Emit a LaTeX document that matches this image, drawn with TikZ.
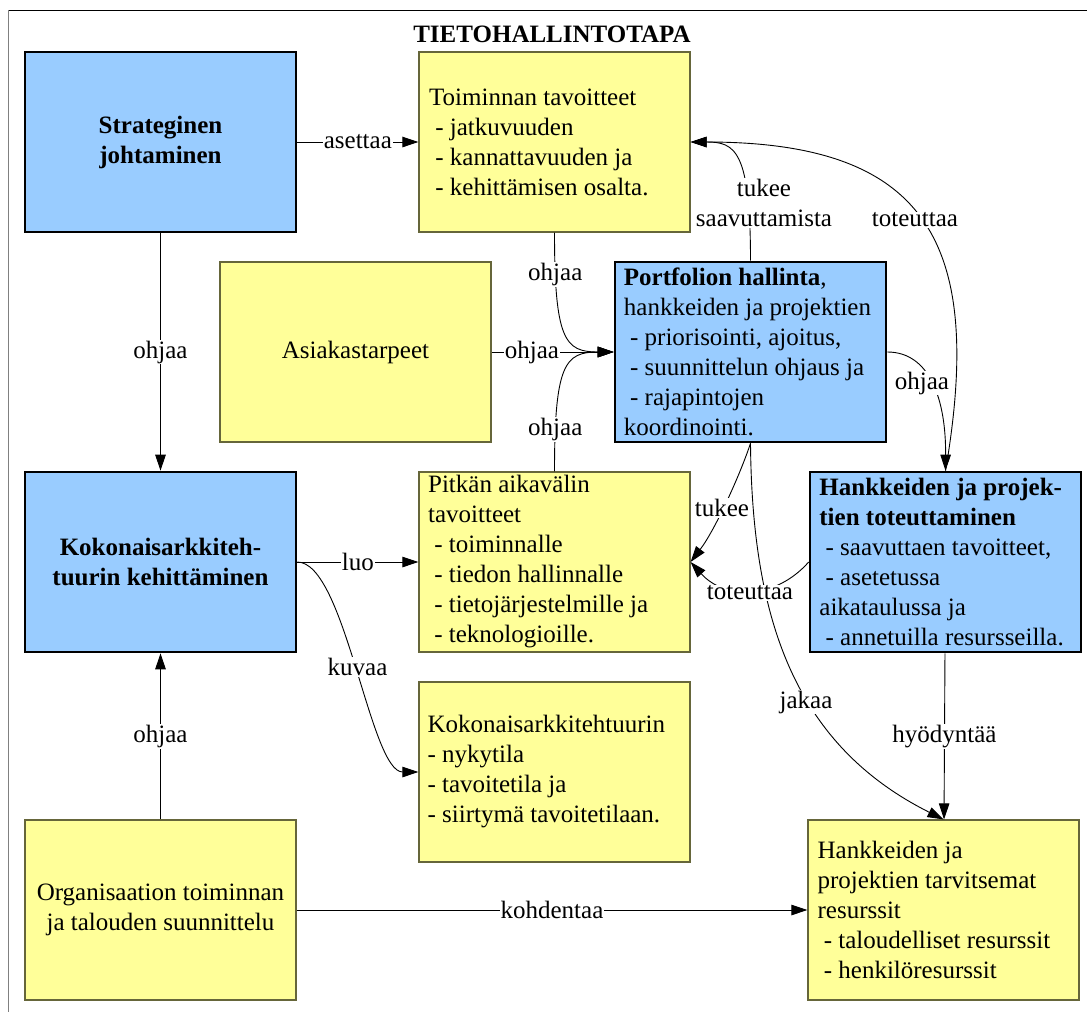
\documentclass[tikz,border=0pt]{standalone}
\usepackage{fontspec}
\setmainfont{Liberation Serif}
\usetikzlibrary{arrows.meta}
\definecolor{bluefill}{HTML}{99CCFF}
\definecolor{yelfill}{HTML}{FFFF99}
\definecolor{yelline}{HTML}{66663A}
\definecolor{framegray}{HTML}{808080}
\begin{document}
\begin{tikzpicture}[x=1pt,y=-1pt,
  every node/.style={font=\fontsize{25}{30}\selectfont},
  boldfont/.style={font=\bfseries\fontsize{25}{30}\selectfont},
  boxbase/.style={rectangle, minimum width=271pt, minimum height=180pt, inner sep=0pt, align=center},
  bluebox/.style={boxbase, fill=bluefill, draw=black, line width=2.6pt},
  yelbox/.style={boxbase, fill=yelfill, draw=yelline, line width=1.2pt},
  txt/.style={anchor=west, align=left, inner sep=0pt},
  conn/.style={draw, line width=0.9pt, -{Triangle[length=16pt,width=10.5pt]}},
  lbl/.style={fill=white, inner sep=1pt},
]
\useasboundingbox (0,0) rectangle (1087,1012);
\fill[white] (0,0) rectangle (1087,1012);
% frame
\draw[black, line width=1.5pt] (8,10.5) -- (1087,10.5);
\draw[framegray, line width=1.5pt] (8.5,10) -- (8.5,1012);
% title
\node[boldfont] (title) at (552,34) {TIETOHALLINTOTAPA};
% boxes
\node[bluebox, boldfont] (strat) at (160.5,142) {Strateginen\\johtaminen};
\node[yelbox] (toim) at (554.5,142) {};
\node[txt] (toimt) at ([xshift=10.5pt]toim.west) {Toiminnan tavoitteet\\\ - jatkuvuuden\\\ - kannattavuuden ja\\\ - kehittämisen osalta.};
\node[yelbox] (asiak) at (355.5,352) {Asiakastarpeet};
\node[bluebox] (port) at (750.5,352) {};
\node[txt] (portt) at ([xshift=10pt]port.west) {\textbf{Portfolion hallinta},\\hankkeiden ja projektien\\\ - priorisointi, ajoitus,\\\ - suunnittelun ohjaus ja\\\ - rajapintojen\\koordinointi.};
\node[bluebox, boldfont] (koko) at (160.5,562) {Kokonaisarkkiteh-\\tuurin kehittäminen};
\node[yelbox] (pitk) at (554.5,562) {};
\node[txt] (pitkt) at ([xshift=9.5pt]pitk.west) {Pitkän aikavälin\\tavoitteet\\\ - toiminnalle\\\ - tiedon hallinnalle\\\ - tietojärjestelmille ja\\\ - teknologioille.};
\node[bluebox] (hank) at (945.5,562) {};
\node[txt] (hankt) at ([xshift=10.5pt]hank.west) {\textbf{Hankkeiden ja projek-}\\\textbf{tien toteuttaminen}\\\ - saavuttaen tavoitteet,\\\ - asetetussa\\aikataulussa ja\\\ - annetuilla resursseilla.};
\node[yelbox] (nyky) at (554.5,772) {};
\node[txt] (nykyt) at ([xshift=9pt]nyky.west) {Kokonaisarkkitehtuurin\\- nykytila\\- tavoitetila ja\\- siirtymä tavoitetilaan.};
\node[yelbox] (org) at (160.5,910) {Organisaation toiminnan\\ja talouden suunnittelu};
\node[yelbox] (res) at (943.5,910) {};
\node[txt] (rest) at ([xshift=10pt]res.west) {Hankkeiden ja\\projektien tarvitsemat\\resurssit\\\ - taloudelliset resurssit\\\ - henkilöresurssit};
% connectors
\draw[conn] (strat) -- node[lbl]{asettaa} (toim);
\draw[conn] (strat) -- node[lbl]{ohjaa} (koko);
\draw[conn] (org) -- node[lbl]{ohjaa} (koko);
\draw[conn] (org) -- node[lbl]{kohdentaa} (res);
\draw[conn] (koko) -- node[lbl]{luo} (pitk);
\draw[conn] (koko.east) .. controls (345,562) and (370,772) .. node[lbl]{kuvaa} (nyky.west);
\draw[conn] (toim.south) .. controls (554.5,340) and (565,352) .. node[lbl,pos=0.15]{ohjaa} (port.west);
\draw[conn] (asiak) -- node[lbl,pos=0.33]{ohjaa} (port);
\draw[conn] (pitk.north) .. controls (554.5,364) and (565,352) .. node[lbl,pos=0.15]{ohjaa} (port.west);
\draw[conn] (port.north) .. controls (750.5,150) and (735,142) .. (toim.east);
\draw[conn] (hank.north) .. controls (985,240) and (925,142) .. (toim.east);
\draw[conn] (port.east) .. controls (930,352) and (946,400) .. (hank.north);
\draw[conn] (port.south) .. controls (740,475) and (715,530) .. (pitk.east);
\draw[conn] (port.south) .. controls (752,620) and (795,745) .. (res.north);
\draw[conn] (hank.west) .. controls (775,600) and (725,600) .. (pitk.east);
\draw[conn] (hank) -- node[lbl]{hyödyntää} (res);
% free labels
\node[lbl, align=center] (ltukee1) at (764,203) {tukee\\saavuttamista};
\node[lbl] (ltot1) at (915,220) {toteuttaa};
\node[lbl] (lohj) at (922,383) {ohjaa};
\node[lbl] (ltukee2) at (722,508) {tukee};
\node[lbl] (ltot2) at (750,593) {toteuttaa};
\node[lbl] (ljakaa) at (806,702) {jakaa};
\end{tikzpicture}
\end{document}
